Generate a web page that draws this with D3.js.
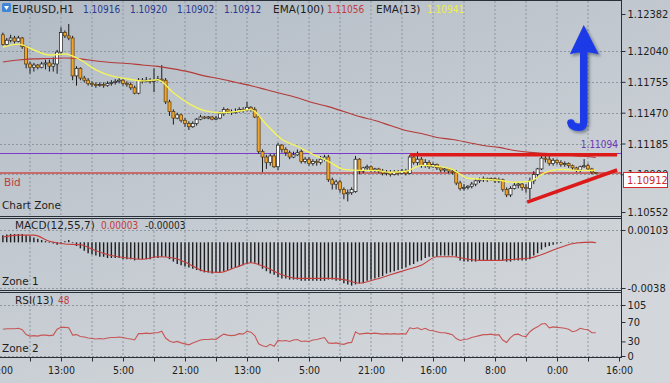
<!DOCTYPE html>
<html>
<head>
<meta charset="utf-8">
<script src="https://cdn.jsdelivr.net/npm/d3@7"></script>
<style>
html, body { margin: 0; padding: 0; background: #cfd3d8; }
svg { display: block; }
text { font-family: "DejaVu Sans", sans-serif; }
.cond { font-family: "DejaVu Sans Condensed", "DejaVu Sans", sans-serif; }
</style>
</head>
<body>
<div id="canvas"></div>
<script>
// ---- EURUSD H1, bars 1..154 (bar 0 = 21:00 at the left edge)
var opens = [1.1219,1.1210,1.1214,1.1216,1.1213,1.1216,1.1208,1.1192,1.1189,1.1191,
1.1189,1.1192,1.1193,1.1190,1.1192,1.1203,1.1221,1.1218,1.1216,1.1181,
1.1188,1.1179,1.1177,1.1174,1.1173,1.1172,1.1173,1.1172,1.1174,1.1175,
1.1176,1.1177,1.1174,1.1173,1.1170,1.1165,1.1177,1.1176,1.1177,1.1176,
1.1177,1.1178,1.1177,1.1157,1.1148,1.1142,1.1145,1.1140,1.1137,1.1134,
1.1137,1.1141,1.1143,1.1142,1.1143,1.1141,1.1142,1.1146,1.1150,1.1148,
1.1147,1.1148,1.1150,1.1149,1.1152,1.1150,1.1143,1.1111,1.1106,1.1101,
1.1107,1.1097,1.1117,1.1113,1.1110,1.1106,1.1108,1.1111,1.1102,1.1104,
1.1100,1.1102,1.1101,1.1104,1.1106,1.1085,1.1081,1.1083,1.1076,1.1072,
1.1073,1.1074,1.1104,1.1093,1.1096,1.1097,1.1094,1.1095,1.1093,1.1091,
1.1092,1.1090,1.1092,1.1091,1.1093,1.1091,1.1106,1.1101,1.1104,1.1098,
1.1101,1.1097,1.1099,1.1096,1.1094,1.1095,1.1093,1.1092,1.1082,1.1077,
1.1078,1.1079,1.1081,1.1084,1.1085,1.1086,1.1085,1.1086,1.1084,1.1085,
1.1076,1.1071,1.1077,1.1080,1.1081,1.1078,1.1077,1.1084,1.1090,1.1095,
1.1105,1.1104,1.1100,1.1103,1.1101,1.1099,1.1100,1.1098,1.1096,1.1094,
1.1097,1.1098,1.1095,1.10916];
var highs = [1.1221,1.1216,1.1219,1.1218,1.1218,1.1217,1.1209,1.1194,1.1193,1.1192,
1.1194,1.1196,1.1196,1.1198,1.1205,1.1226,1.1223,1.1229,1.1218,1.1190,
1.1189,1.1181,1.1179,1.1176,1.1175,1.1175,1.1175,1.1176,1.1177,1.1178,
1.1179,1.1178,1.1176,1.1175,1.1172,1.1179,1.1179,1.1180,1.1179,1.1188,
1.1181,1.1191,1.1179,1.1159,1.1150,1.1147,1.1146,1.1142,1.1139,1.1139,
1.1142,1.1145,1.1144,1.1144,1.1144,1.1144,1.1148,1.1152,1.1151,1.1150,
1.1151,1.1152,1.1152,1.1157,1.1153,1.1152,1.1145,1.1113,1.1108,1.1109,
1.1109,1.1119,1.1118,1.1115,1.1112,1.1111,1.1113,1.1113,1.1106,1.1106,
1.1104,1.1104,1.1107,1.1108,1.1108,1.1087,1.1085,1.1085,1.1078,1.1076,
1.1078,1.1107,1.1105,1.1097,1.1099,1.1098,1.1096,1.1096,1.1095,1.1094,
1.1094,1.1094,1.1094,1.1095,1.1095,1.1108,1.1108,1.1111,1.1106,1.1104,
1.1103,1.1101,1.1100,1.1097,1.1096,1.1096,1.1095,1.1094,1.1084,1.1081,
1.1080,1.1083,1.1086,1.1087,1.1088,1.1087,1.1087,1.1087,1.1087,1.1086,
1.1078,1.1079,1.1083,1.1083,1.1082,1.1081,1.1087,1.1093,1.1096,1.1108,
1.1107,1.1107,1.1105,1.1104,1.1103,1.1102,1.1101,1.1099,1.1097,1.1098,
1.1104,1.1100,1.1096,1.10920];
var lows = [1.1209,1.1209,1.1212,1.1211,1.1212,1.1206,1.1188,1.1183,1.1185,1.1187,
1.1188,1.1187,1.1185,1.1185,1.1183,1.1200,1.1216,1.1214,1.1177,1.1172,
1.1177,1.1175,1.1172,1.1171,1.1170,1.1171,1.1170,1.1171,1.1172,1.1173,
1.1174,1.1172,1.1171,1.1168,1.1164,1.1164,1.1174,1.1175,1.1174,1.1166,
1.1176,1.1175,1.1155,1.1144,1.1136,1.1141,1.1138,1.1134,1.1131,1.1133,
1.1135,1.1140,1.1141,1.1141,1.1140,1.1140,1.1141,1.1144,1.1146,1.1145,
1.1146,1.1147,1.1147,1.1148,1.1148,1.1142,1.1109,1.1092,1.1095,1.1098,
1.1096,1.1094,1.1110,1.1107,1.1104,1.1105,1.1107,1.1100,1.1100,1.1098,
1.1098,1.1098,1.1099,1.1102,1.1083,1.1076,1.1076,1.1073,1.1067,1.1065,
1.1071,1.1073,1.1090,1.1091,1.1093,1.1092,1.1092,1.1091,1.1089,1.1089,
1.1088,1.1089,1.1089,1.1090,1.1089,1.1090,1.1099,1.1098,1.1096,1.1096,
1.1095,1.1096,1.1094,1.1092,1.1092,1.1091,1.1090,1.1080,1.1075,1.1075,
1.1076,1.1077,1.1079,1.1082,1.1083,1.1083,1.1084,1.1082,1.1082,1.1074,
1.1069,1.1069,1.1076,1.1077,1.1075,1.1073,1.1067,1.1081,1.1087,1.1094,
1.1101,1.1098,1.1098,1.1099,1.1097,1.1097,1.1096,1.1094,1.1092,1.1092,
1.1096,1.1093,1.1090,1.10902];
var closes = [1.1210,1.1214,1.1216,1.1213,1.1216,1.1208,1.1192,1.1189,1.1191,1.1189,
1.1192,1.1193,1.1190,1.1192,1.1203,1.1221,1.1218,1.1216,1.1181,1.1188,
1.1179,1.1177,1.1174,1.1173,1.1172,1.1173,1.1172,1.1174,1.1175,1.1176,
1.1177,1.1174,1.1173,1.1170,1.1165,1.1177,1.1176,1.1177,1.1176,1.1177,
1.1178,1.1177,1.1157,1.1148,1.1142,1.1145,1.1140,1.1137,1.1134,1.1137,
1.1141,1.1143,1.1142,1.1143,1.1141,1.1142,1.1146,1.1150,1.1148,1.1147,
1.1148,1.1150,1.1149,1.1152,1.1150,1.1143,1.1111,1.1106,1.1101,1.1107,
1.1097,1.1117,1.1113,1.1110,1.1106,1.1108,1.1110,1.1102,1.1104,1.1100,
1.1102,1.1101,1.1104,1.1106,1.1085,1.1081,1.1083,1.1076,1.1072,1.1073,
1.1076,1.1104,1.1093,1.1096,1.1097,1.1094,1.1095,1.1093,1.1091,1.1092,
1.1090,1.1092,1.1091,1.1093,1.1091,1.1106,1.1101,1.1104,1.1098,1.1101,
1.1097,1.1099,1.1096,1.1094,1.1095,1.1093,1.1092,1.1082,1.1077,1.1078,
1.1079,1.1081,1.1084,1.1085,1.1086,1.1085,1.1086,1.1084,1.1085,1.1076,
1.1071,1.1077,1.1080,1.1081,1.1078,1.1077,1.1084,1.1090,1.1095,1.1105,
1.1104,1.1100,1.1103,1.1101,1.1099,1.1100,1.1098,1.1096,1.1094,1.1097,
1.1098,1.1095,1.1092,1.10912];

// moving averages, read every 4th bar
var maBars = [1,5,9,13,17,21,25,29,33,37,41,45,49,53,57,61,65,69,73,77,
81,85,89,93,97,101,105,109,113,117,121,125,129,133,137,141,145,149,153,154];
var ema13 = [1.12077,1.12104,1.12049,1.12003,1.12013,1.11957,1.11866,1.11810,1.11783,1.11764,
1.11774,1.11654,1.11553,1.11489,1.11470,1.11480,1.11498,1.11360,1.11222,1.11158,
1.11084,1.11020,1.10946,1.10937,1.10937,1.10919,1.10928,1.10983,1.10974,1.10946,
1.10864,1.10855,1.10845,1.10827,1.10836,1.10919,1.10946,1.10937,1.10937,1.10941];
var ema100 = [1.11939,1.11957,1.11967,1.11971,1.11976,1.11967,1.11948,1.11934,1.11925,1.11911,
1.11898,1.11875,1.11847,1.11810,1.11783,1.11751,1.11719,1.11682,1.11645,1.11608,
1.11562,1.11526,1.11480,1.11434,1.11397,1.11351,1.11305,1.11277,1.11241,1.11222,
1.11195,1.11167,1.11149,1.11121,1.11103,1.11094,1.11084,1.11071,1.11061,1.11056];

// MACD(12,55,7): histogram per bar, signal at maBars
var macdHist = [0.0006,0.00065,0.0007,0.0007,0.0007,0.0007,0.0006,0.0005,0.0004,0.0003,
0.0002,0.0001,-0.00005,-0.0001,-0.0002,-0.0001,0.0001,0.0002,0.0,-0.0003,
-0.0005,-0.0007,-0.0009,-0.0010,-0.0011,-0.0012,-0.0012,-0.0013,-0.0013,-0.0013,
-0.0013,-0.0014,-0.0014,-0.0014,-0.0015,-0.0014,-0.0014,-0.0014,-0.0014,-0.0013,
-0.0013,-0.0012,-0.0012,-0.0014,-0.0016,-0.0018,-0.0019,-0.0020,-0.0021,-0.0022,
-0.0023,-0.0024,-0.0025,-0.0025,-0.0026,-0.0025,-0.0025,-0.0024,-0.0023,-0.0022,
-0.0021,-0.0020,-0.0019,-0.0018,-0.0017,-0.0017,-0.0019,-0.0022,-0.0024,-0.0026,
-0.0027,-0.0029,-0.0030,-0.0030,-0.0031,-0.0031,-0.0031,-0.0032,-0.0032,-0.0032,
-0.0032,-0.0032,-0.0032,-0.0032,-0.0031,-0.0031,-0.0032,-0.0032,-0.0034,-0.0035,
-0.0036,-0.0035,-0.0034,-0.0034,-0.0032,-0.0031,-0.0030,-0.0029,-0.0028,-0.0026,
-0.0025,-0.0024,-0.0023,-0.0022,-0.0021,-0.0019,-0.0018,-0.0016,-0.0015,-0.0013,
-0.0012,-0.0012,-0.0012,-0.0011,-0.0011,-0.0011,-0.0011,-0.0012,-0.0015,-0.0016,
-0.0016,-0.0016,-0.0016,-0.0015,-0.0015,-0.0015,-0.0015,-0.0015,-0.0015,-0.0015,
-0.0016,-0.0016,-0.0015,-0.0015,-0.0015,-0.0015,-0.0014,-0.0011,-0.0009,-0.0006,
-0.0004,-0.0003,-0.0002,-0.0001,-0.00005,0.00002,0.00003,0.00003,0.00002,0.00003,
0.00004,0.00003,0.00003,0.00003];
var macdSignal = [0.00045,0.0006,0.0006,0.0001,-0.00013,-0.0002,-0.0007,-0.0011,-0.0013,-0.0014,
-0.0012,-0.0013,-0.0018,-0.0024,-0.0025,-0.0021,-0.0017,-0.0021,-0.0027,-0.0030,
-0.0030,-0.0030,-0.0031,-0.0034,-0.0031,-0.0027,-0.0023,-0.0019,-0.0012,-0.0012,
-0.0014,-0.0015,-0.0015,-0.0014,-0.0013,-0.0009,-0.0004,-0.00005,0.00002,-0.00003];

// RSI(13) per bar
var rsi = [55,56,56,56,57,54,44,41,42,41,43,43,42,43,55,59,59,58,43,44,
40,39,37,36,35,36,35,37,38,38,39,38,36,35,33,46,46,47,46,48,
48,51,37,31,28,30,27,25,23,27,30,33,34,34,35,34,40,45,43,42,
43,46,45,51,49,42,25,21,19,24,20,32,31,32,30,33,34,30,31,30,
33,34,36,38,27,26,27,25,24,27,28,50,45,46,47,46,47,46,45,46,
45,46,45,46,45,58,56,58,54,57,53,52,50,48,48,46,44,36,32,34,
35,38,40,42,44,44,45,43,44,33,28,38,44,45,41,40,50,56,60,66,
67,58,60,59,58,57,55,50,52,57,55,54,48,48];

// axes
var timeLabels = ["21:00","13:00","5:00","21:00","13:00","5:00","21:00","16:00","8:00","0:00","16:00"];
var priceTicks = [1.12382, 1.12040, 1.11755, 1.11470, 1.11185, 1.10900, 1.10552];
var priceGrid = [1.12040, 1.11755, 1.11470, 1.11185, 1.10900];
var macdTicks = [0.00103, -0.0038];
var rsiTicks = [105, 70, 30, 0];
var rsiGrid = [105, 0];

// levels and drawings (bar index, price)
var hLine = 1.11094, bid = 1.10912;
var resistance = [[106.1, 1.11080], [159.5, 1.11080]];
var support = [[136.3, 1.10644], [159.5, 1.10940]];
var arrowPts = {tip: [150.9, 1.12280], neck: [150.9, 1.12020], bottom: [150.9, 1.11335], hook: [147.6, 1.11375]};

var W = 670, H = 383, axisX = 621;
var svg = d3.select("#canvas").append("svg").attr("width", W).attr("height", H);
var defs = svg.append("defs");

var bg = defs.append("linearGradient").attr("id", "bg")
    .attr("x1", "0").attr("y1", "0").attr("x2", "0.6").attr("y2", "1");
bg.append("stop").attr("offset", "0").attr("stop-color", "#b2bbc5");
bg.append("stop").attr("offset", "1").attr("stop-color", "#d3d7db");
svg.append("rect").attr("width", W).attr("height", H).attr("fill", "url(#bg)");

var sh = defs.append("filter").attr("id", "shadow").attr("x", "-50%").attr("y", "-20%").attr("width", "200%").attr("height", "140%");
sh.append("feDropShadow").attr("dx", 2).attr("dy", 2).attr("stdDeviation", 1.5)
    .attr("flood-color", "#1a2030").attr("flood-opacity", 0.45);

var x = d3.scaleLinear().domain([0, 160]).range([-1, 619]);
var yP = d3.scaleLinear().domain([1.10552, 1.12382]).range([212, 14]);
var yM = d3.scaleLinear().domain([-0.0038, 0.00103]).range([288, 230]);
var yR = d3.scaleLinear().domain([0, 105]).range([356, 305]);

var panels = [{top: 0, bottom: 216}, {top: 218, bottom: 290}, {top: 292, bottom: 357}];
panels.forEach(function(p, k) {
    defs.append("clipPath").attr("id", "clip" + k).append("rect")
        .attr("x", 0).attr("y", p.top + 1).attr("width", axisX).attr("height", p.bottom - p.top - 1);
});

// vertical grid every 8 bars
var vBars = d3.range(8, 160, 8);
panels.forEach(function(p) {
    svg.append("g").selectAll("line").data(vBars).enter().append("line")
        .attr("x1", d => x(d)).attr("x2", d => x(d))
        .attr("y1", p.top + 1).attr("y2", p.bottom)
        .attr("stroke", "#8d97a2").attr("stroke-dasharray", "2,2");
});

function hGrid(vals, scale) {
    svg.append("g").selectAll("line").data(vals).enter().append("line")
        .attr("x1", 0).attr("x2", axisX)
        .attr("y1", d => Math.round(scale(d)) + 0.5).attr("y2", d => Math.round(scale(d)) + 0.5)
        .attr("stroke", "#8d97a2").attr("stroke-dasharray", "2,2");
}
hGrid(priceGrid, yP);
hGrid(macdTicks, yM);
hGrid(rsiGrid, yR);

// ---- main panel
var main = svg.append("g").attr("clip-path", "url(#clip0)");

var hy0 = Math.round(yP(hLine)) + 0.5;
main.append("line").attr("x1", 0).attr("x2", axisX)
    .attr("y1", hy0).attr("y2", hy0)
    .attr("stroke", "#7a3ccc").attr("stroke-width", 1);
var by0 = Math.round(yP(bid));
main.append("line").attr("x1", 0).attr("x2", axisX)
    .attr("y1", by0).attr("y2", by0)
    .attr("stroke", "#c86a6a").attr("stroke-width", 2);

var bars = closes.map(function(c, i) {
    return {i: i + 1, o: opens[i], h: highs[i], l: lows[i], c: c};
});
var cell = main.selectAll("g.candle").data(bars).enter().append("g").attr("class", "candle");
cell.append("line")
    .attr("x1", d => x(d.i)).attr("x2", d => x(d.i))
    .attr("y1", d => yP(d.h)).attr("y2", d => yP(d.l))
    .attr("stroke", "#1c1c1c").attr("stroke-width", 1);
cell.append("rect")
    .attr("x", d => x(d.i) - 1.5).attr("width", 3)
    .attr("y", d => yP(Math.max(d.o, d.c)))
    .attr("height", d => Math.max(1, Math.abs(yP(d.o) - yP(d.c))))
    .attr("fill", d => d.c >= d.o ? "#ffffff" : "#f0a52a")
    .attr("stroke", d => d.c >= d.o ? "#1a1a1a" : "#5a3c10")
    .attr("stroke-width", 0.7);

var maLine = d3.line().x((d, i) => x(maBars[i])).y(d => yP(d)).curve(d3.curveMonotoneX);
main.append("path").datum(ema100).attr("d", maLine)
    .attr("fill", "none").attr("stroke", "#b43a3a").attr("stroke-width", 1.1);
main.append("path").datum(ema13).attr("d", maLine)
    .attr("fill", "none").attr("stroke", "#f4f45c").attr("stroke-width", 1.4);

var seg = d3.line().x(d => x(d[0])).y(d => yP(d[1]));
main.append("path").datum(resistance).attr("d", seg)
    .attr("stroke", "#dd1a1a").attr("stroke-width", 3.5).attr("fill", "none");
main.append("path").datum(support).attr("d", seg)
    .attr("stroke", "#dd1a1a").attr("stroke-width", 3.5).attr("fill", "none");

// blue arrow
var tx = x(arrowPts.tip[0]), ty = yP(arrowPts.tip[1]);
var ny = yP(arrowPts.neck[1]), by = yP(arrowPts.bottom[1]);
var hx = x(arrowPts.hook[0]), hy = yP(arrowPts.hook[1]);
var arrow = main.append("g").attr("filter", "url(#shadow)");
arrow.append("path")
    .attr("d", "M" + tx + "," + (ny - 1) + " L" + tx + "," + (by - 6) +
        " Q" + tx + "," + by + " " + (tx - 5) + "," + by +
        " Q" + (hx + 1) + "," + by + " " + hx + "," + hy)
    .attr("fill", "none").attr("stroke", "#1d3be6").attr("stroke-width", 7.5)
    .attr("stroke-linecap", "round");
arrow.append("path")
    .attr("d", "M" + tx + "," + ty + " L" + (tx + 15) + "," + (ny + 1) +
        " Q" + tx + "," + (ny - 3) + " " + (tx - 14) + "," + (ny + 1) + " Z")
    .attr("fill", "#1d3be6");

// ---- MACD panel
var macd = svg.append("g").attr("clip-path", "url(#clip1)");
macd.selectAll("line.h").data(macdHist).enter().append("line")
    .attr("x1", (d, i) => x(i + 1)).attr("x2", (d, i) => x(i + 1))
    .attr("y1", yM(0)).attr("y2", d => yM(d) + (d === 0 ? 0.6 : 0))
    .attr("stroke", "#1e1e1e").attr("stroke-width", 1.4);
macd.append("path").datum(macdSignal)
    .attr("d", d3.line().x((d, i) => x(maBars[i])).y(d => yM(d)).curve(d3.curveMonotoneX))
    .attr("fill", "none").attr("stroke", "#c43c3c").attr("stroke-width", 1.1);

// ---- RSI panel
var rsiG = svg.append("g").attr("clip-path", "url(#clip2)");
rsiG.append("path").datum(rsi)
    .attr("d", d3.line().x((d, i) => x(i + 1)).y(d => yR(d)))
    .attr("fill", "none").attr("stroke", "#c65656").attr("stroke-width", 1.1);

// ---- frames
panels.forEach(function(p) {
    svg.append("line").attr("x1", 0).attr("x2", axisX + 0.5).attr("y1", p.top + 0.5).attr("y2", p.top + 0.5)
        .attr("stroke", "#2a3037");
    svg.append("line").attr("x1", 0).attr("x2", axisX + 0.5).attr("y1", p.bottom + 0.5).attr("y2", p.bottom + 0.5)
        .attr("stroke", "#2a3037");
});
svg.append("line").attr("x1", axisX + 0.5).attr("x2", axisX + 0.5).attr("y1", 0).attr("y2", 358)
    .attr("stroke", "#2a3037");

// ---- right axes
function rightAxis(scale, vals, fmt) {
    var g = svg.append("g").attr("transform", "translate(" + (axisX + 0.5) + ",0)")
        .call(d3.axisRight(scale).tickValues(vals).tickFormat(fmt).tickSize(4).tickPadding(2));
    g.select(".domain").remove();
    g.selectAll(".tick line").attr("stroke", "#2a3037");
    g.selectAll(".tick text").attr("class", "cond").style("font-size", "11px").attr("fill", "#1e1e1e");
    return g;
}
rightAxis(yP, priceTicks, d3.format(".5f"));
rightAxis(yM, macdTicks, d => String(d));
rightAxis(yR, rsiTicks, d => String(d));

// bid price box
var bidY = Math.round(yP(bid)) - 0.5;
svg.append("rect").attr("x", axisX + 2.5).attr("y", bidY).attr("width", 44).attr("height", 15)
    .attr("fill", "#ffffff").attr("stroke", "#d02a2a");
svg.append("text").attr("class", "cond").attr("x", axisX + 6).attr("y", bidY + 11.5)
    .style("font-size", "11px").attr("fill", "#d02a2a").text(d3.format(".5f")(bid));

// ---- time axis
var ax = svg.append("g").attr("transform", "translate(0,357.5)")
    .call(d3.axisBottom(x).tickValues(d3.range(0, 161, 8)).tickSize(4)
        .tickFormat(d => d % 16 === 0 ? timeLabels[d / 16] : ""));
ax.select(".domain").remove();
ax.selectAll(".tick line").attr("stroke", "#2a3037");
ax.selectAll(".tick text").attr("class", "cond").style("font-size", "10.5px").attr("fill", "#1e1e1e")
    .attr("y", 9);

// ---- labels
function label(txt, px, py, color, cls, size) {
    svg.append("text").attr("x", px).attr("y", py).attr("class", cls || null)
        .style("font-size", (size || 10.5) + "px").attr("fill", color || "#1e1e1e").text(txt);
}
svg.append("rect").attr("x", 2).attr("y", 3).attr("width", 9).attr("height", 9).attr("rx", 1.5).attr("fill", "#3f86d6");
svg.append("path").attr("d", "M4,6 L9,6 L6.5,10 Z").attr("fill", "#ffffff");
label("EURUSD,H1", 12, 13);
var hdr = [opens[opens.length - 1], highs[highs.length - 1], lows[lows.length - 1], closes[closes.length - 1]];
hdr.forEach(function(v, k) { label(d3.format(".5f")(v), 83 + k * 47, 13, "#2c3a8e", "cond", 10); });
label("EMA(100)", 273, 13);
label(d3.format(".5f")(ema100[ema100.length - 1]), 327, 13, "#c23c3c", "cond", 10);
label("EMA(13)", 376, 13);
label(d3.format(".5f")(ema13[ema13.length - 1]), 427, 13, "#eeee44", "cond", 10);

svg.append("text").attr("x", 618).attr("y", yP(hLine) - 5).attr("text-anchor", "end").attr("class", "cond")
    .style("font-size", "10px").attr("fill", "#7236b4").text(d3.format(".5f")(hLine));
label("Bid", 4, 186, "#c23c3c");
label("Chart Zone", 2, 209);

label("MACD(12,55,7)", 15, 229);
label("0.00003", 101, 229, "#c23c3c", "cond", 10);
label("-0.00003", 145, 229, "#1e1e1e", "cond", 10);
label("Zone 1", 2, 285);

label("RSI(13)", 15, 304);
label(String(rsi[rsi.length - 1]), 58, 304, "#c23c3c", "cond", 10);
label("Zone 2", 2, 352);
</script>
</body>
</html>
